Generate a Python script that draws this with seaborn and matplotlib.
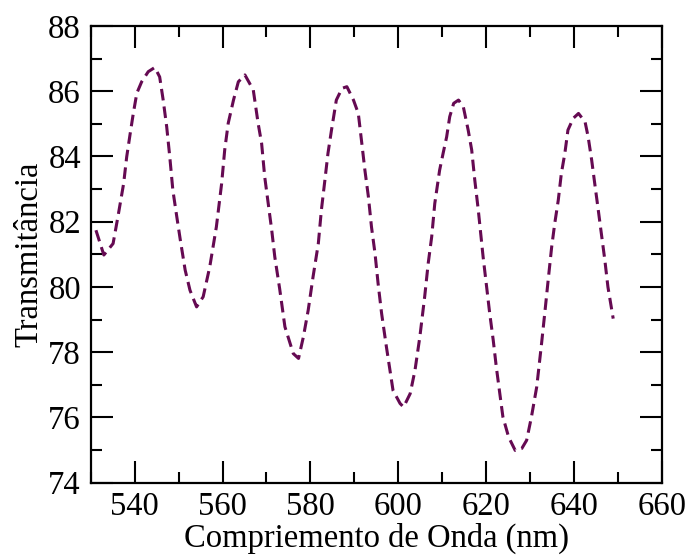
import matplotlib
matplotlib.use("Agg")
import matplotlib.pyplot as plt
import seaborn as sns
import pandas as pd
from matplotlib.ticker import MultipleLocator

wavelength = [531.2, 533.0, 535.1, 536.2, 537.5, 538.2, 539.0, 539.7, 540.5, 541.6,
              543.1, 544.6, 545.7, 546.5, 547.3, 548.0, 548.7, 549.6, 550.4, 551.5,
              552.6, 554.1, 555.6, 557.1, 558.6, 559.8, 560.5, 561.3, 562.5, 563.6,
              565.1, 567.0, 568.1, 568.9, 569.6, 570.4, 571.2, 571.9, 573.0, 574.2,
              576.1, 577.3, 578.4, 579.5, 580.6, 581.8, 582.5, 583.3, 584.0, 584.8,
              585.9, 587.2, 588.3, 589.8, 590.9, 591.7, 592.4, 593.2, 593.9, 594.7,
              595.4, 596.2, 597.3, 598.8, 600.4, 601.2, 602.7, 603.8, 604.9, 606.0,
              606.8, 607.6, 608.3, 609.4, 610.2, 611.0, 611.7, 612.6, 613.7, 614.8,
              615.9, 616.7, 617.4, 618.2, 619.3, 620.1, 620.8, 621.6, 622.3, 623.1,
              623.8, 625.1, 626.6, 628.1, 629.2, 630.3, 631.5, 632.6, 633.4, 634.1,
              634.9, 635.6, 636.4, 637.1, 637.9, 638.6, 639.8, 641.0, 642.5, 643.2,
              644.0, 644.7, 645.5, 646.2, 647.0, 647.7, 648.9]
transmittance = [81.74, 80.98, 81.33, 82.15, 83.17, 83.99, 84.71, 85.32, 85.94, 86.29,
                 86.60, 86.73, 86.44, 85.73, 84.91, 83.99, 82.97, 82.15, 81.44, 80.52,
                 79.90, 79.39, 79.70, 80.62, 81.84, 83.17, 84.20, 85.02, 85.73, 86.29,
                 86.50, 86.04, 85.02, 84.40, 83.38, 82.56, 81.74, 80.92, 79.95, 78.78,
                 77.96, 77.81, 78.47, 79.29, 80.31, 81.33, 82.36, 83.28, 84.10, 84.81,
                 85.73, 86.09, 86.14, 85.73, 85.32, 84.40, 83.58, 82.76, 81.84, 81.03,
                 80.11, 79.19, 78.16, 76.83, 76.43, 76.32, 76.73, 77.45, 78.47, 79.70,
                 80.72, 81.54, 82.56, 83.58, 84.10, 84.60, 85.22, 85.63, 85.73, 85.52,
                 84.81, 84.20, 83.28, 82.36, 80.92, 80.00, 79.19, 78.37, 77.55, 76.73,
                 76.02, 75.40, 74.99, 75.05, 75.30, 76.02, 76.94, 78.27, 79.29, 80.21,
                 81.23, 81.95, 82.66, 83.48, 84.10, 84.81, 85.17, 85.32, 85.06, 84.60,
                 83.89, 83.17, 82.36, 81.64, 80.82, 80.00, 79.03]

x_label = "Compriemento de Onda (nm)"
y_label = "Transmitância"

df = pd.DataFrame({"wl": wavelength, "T": transmittance})

sns.set_style("white")
plt.rcParams["font.family"] = ["Liberation Serif", "DejaVu Serif"]
plt.rcParams["text.color"] = "black"
plt.rcParams["axes.labelcolor"] = "black"

fig = plt.figure(figsize=(6.9, 5.58), dpi=100)
ax = fig.add_axes([0.1314, 0.1349, 0.9594 - 0.1314, 0.9534 - 0.1349])

sns.lineplot(data=df, x="wl", y="T", ax=ax, color="#650a52", linewidth=2.2,
             sort=False, estimator=None)
ax.lines[0].set_dashes([3.8, 2.0])

ax.set_xlim(530, 660)
ax.set_ylim(74, 88)
ax.xaxis.set_major_locator(MultipleLocator(20))
ax.xaxis.set_minor_locator(MultipleLocator(10))
ax.yaxis.set_major_locator(MultipleLocator(2))
ax.yaxis.set_minor_locator(MultipleLocator(1))

ax.tick_params(which="both", direction="in", top=True, right=True,
               bottom=True, left=True, width=1.5, colors="black",
               labelsize=23.5, labelcolor="black")
ax.tick_params(which="major", length=16)
ax.tick_params(which="minor", length=8)
ax.tick_params(axis="y", pad=7)
ax.tick_params(axis="x", pad=6)

for s in ax.spines.values():
    s.set_linewidth(1.6)
    s.set_color("black")

ax.set_xlabel(x_label, fontsize=23.5, labelpad=1, color="black")
ax.set_ylabel(y_label, fontsize=23.5, labelpad=3, color="black")

fig.savefig("out.png", dpi=100)
